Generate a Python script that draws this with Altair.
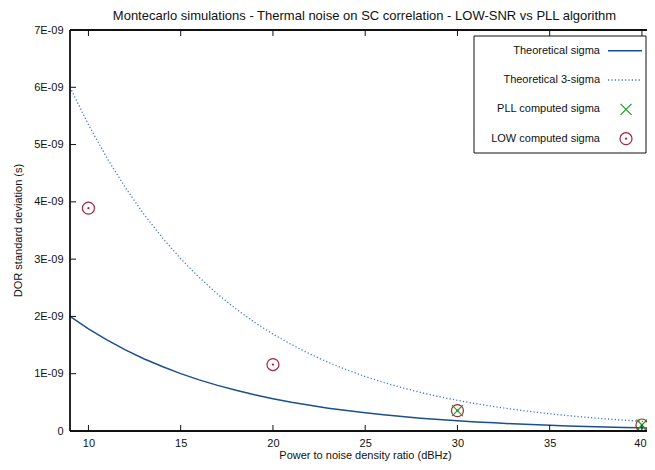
import altair as alt
import pandas as pd

# ---- data ----
snr = [9, 10, 11, 12, 13, 14, 15, 16, 17, 18, 19, 20, 21, 22, 23, 24, 25,
       26, 27, 28, 29, 30, 31, 32, 33, 34, 35, 36, 37, 38, 39, 40, 41]
theo_sigma = [2.000, 1.783, 1.589, 1.416, 1.262, 1.125, 1.002, 0.893, 0.796,
              0.710, 0.632, 0.564, 0.502, 0.448, 0.399, 0.356, 0.317, 0.283,
              0.252, 0.224, 0.200, 0.178, 0.159, 0.142, 0.126, 0.112, 0.100,
              0.089, 0.080, 0.071, 0.063, 0.056, 0.050]
theo_3sigma = [6.000, 5.348, 4.767, 4.249, 3.787, 3.375, 3.008, 2.681, 2.389,
               2.130, 1.898, 1.692, 1.508, 1.344, 1.198, 1.068, 0.951, 0.848,
               0.756, 0.673, 0.600, 0.535, 0.477, 0.425, 0.379, 0.338, 0.301,
               0.268, 0.239, 0.213, 0.190, 0.169, 0.151]
low_x = [10, 20, 30, 40]
low_sigma = [3.89, 1.16, 0.355, 0.105]
pll_x = [30, 40]
pll_sigma = [0.355, 0.105]
x_ticks = [10, 15, 20, 25, 30, 35, 40]
y_ticks = [0, 1, 2, 3, 4, 5, 6, 7]
legend_labels = ["Theoretical sigma", "Theoretical 3-sigma",
                 "PLL computed sigma", "LOW computed sigma"]

NS = 1e9
curves = pd.DataFrame({"x": snr,
                       "s1": [v / NS for v in theo_sigma],
                       "s3": [v / NS for v in theo_3sigma]})
low = pd.DataFrame({"x": low_x, "y": [v / NS for v in low_sigma]})
pll = pd.DataFrame({"x": pll_x, "y": [v / NS for v in pll_sigma]})
xt = pd.DataFrame({"x": x_ticks})
yt = pd.DataFrame({"y": [v / NS for v in y_ticks]})
one = pd.DataFrame({"a": [0]})

FONT = "Liberation Sans"
W, H = 577, 401
BLUE = "#1b4f8e"
LBLUE = "#3c78c0"
RED = "#a3243b"
GREEN = "#1e9e1e"
INK = "#111111"
XPATH = "M-1,-1L1,1M-1,1L1,-1"

xs = alt.Scale(domain=[9, 9 + W / 18.45], nice=False, zero=False)
ys = alt.Scale(domain=[0, 7 / NS], nice=False, zero=False)

xax = alt.Axis(values=x_ticks, ticks=False, domain=False, grid=False,
               labelFont=FONT, labelFontSize=11, labelColor=INK,
               labelPadding=6, labelFlush=False,
               labelOffset={"expr": "datum.value == 40 ? -2 : 0"},
               title="Power to noise density ratio (dBHz)",
               titleFont=FONT, titleFontSize=11, titleFontWeight="normal",
               titleColor=INK, titleX=295, titleY=24,
               titleBaseline="middle", titleAlign="center")
yax = alt.Axis(values=[v / NS for v in y_ticks], ticks=False, domain=False,
               grid=False, labelFont=FONT, labelFontSize=11, labelColor=INK,
               labelPadding=7, labelFlush=False,
               labelExpr="datum.value == 0 ? '0' : format(datum.value*1e9, '.0f') + 'E-09'",
               title="DOR standard deviation (s)", titleFont=FONT,
               titleFontSize=11, titleFontWeight="normal", titleColor=INK,
               titleAngle=270, titleX=-52, titleY=200, titleBaseline="middle",
               titleAlign="center")

X = lambda f: alt.X(f, type="quantitative", scale=xs, axis=xax)
Y = lambda f: alt.Y(f, type="quantitative", scale=ys, axis=yax)

line1 = alt.Chart(curves).mark_line(color=BLUE, strokeWidth=1.5, clip=True).encode(
    x=X("x"), y=Y("s1"))
line3 = alt.Chart(curves).mark_line(color=LBLUE, strokeWidth=1.3,
                                    strokeDash=[1.2, 2.2], clip=True).encode(
    x=X("x"), y=Y("s3"))
low_c = alt.Chart(low).mark_point(shape="circle", filled=False, size=144,
                                  color=RED, strokeWidth=1.2, opacity=1).encode(
    x=X("x"), y=Y("y"))
low_d = alt.Chart(low).mark_point(shape="circle", filled=True, size=5,
                                  color=RED, opacity=1).encode(
    x=X("x"), y=Y("y"))
pll_p = alt.Chart(pll).mark_point(shape=XPATH, filled=False, size=121,
                                  color=GREEN, strokeWidth=1.2, opacity=1).encode(
    x=X("x"), y=Y("y"))

# plot border (left, top, bottom; the right side runs off the page)
border = [
    alt.Chart(one).mark_rule(color=INK, strokeWidth=1.8).encode(
        x=alt.value(0), y=alt.value(0), y2=alt.value(H)),
    alt.Chart(one).mark_rule(color=INK, strokeWidth=1.8).encode(
        x=alt.value(0), x2=alt.value(W + 5), y=alt.value(0)),
    alt.Chart(one).mark_rule(color=INK, strokeWidth=1.8).encode(
        x=alt.value(0), x2=alt.value(W + 5), y=alt.value(H)),
]

# inward ticks (gnuplot style)
tick_b = alt.Chart(xt).mark_rule(color=INK, strokeWidth=1).encode(
    x=X("x"), y=alt.value(H), y2=alt.value(H - 6))
tick_t = alt.Chart(xt).mark_rule(color=INK, strokeWidth=1).encode(
    x=X("x"), y=alt.value(0), y2=alt.value(6))
tick_l = alt.Chart(yt).mark_rule(color=INK, strokeWidth=1).encode(
    y=Y("y"), x=alt.value(0), x2=alt.value(6))

# legend box
lx0, lx1, ly0, ly1 = 404, 576, 6, 123
rows = [20.7, 50, 79.3, 108.7]
leg = [alt.Chart(one).mark_rect(fill="white", stroke=INK, strokeWidth=1).encode(
    x=alt.value(lx0), x2=alt.value(lx1), y=alt.value(ly0), y2=alt.value(ly1))]
for lab, ry in zip(legend_labels, rows):
    leg.append(alt.Chart(one).mark_text(align="right", baseline="middle",
                                        font=FONT, fontSize=11, color=INK,
                                        text=lab).encode(
        x=alt.value(530), y=alt.value(ry)))
leg.append(alt.Chart(one).mark_rule(color=BLUE, strokeWidth=1.5).encode(
    x=alt.value(538), x2=alt.value(572), y=alt.value(rows[0])))
leg.append(alt.Chart(one).mark_rule(color=LBLUE, strokeWidth=1.3,
                                    strokeDash=[1.2, 2.2]).encode(
    x=alt.value(538), x2=alt.value(572), y=alt.value(rows[1])))
leg.append(alt.Chart(one).mark_point(shape=XPATH, filled=False, size=121,
                                     color=GREEN, strokeWidth=1.2, opacity=1).encode(
    x=alt.value(556), y=alt.value(rows[2])))
leg.append(alt.Chart(one).mark_point(shape="circle", filled=False, size=144,
                                     color=RED, strokeWidth=1.2, opacity=1).encode(
    x=alt.value(556), y=alt.value(rows[3])))
leg.append(alt.Chart(one).mark_point(shape="circle", filled=True, size=5,
                                     color=RED, opacity=1).encode(
    x=alt.value(556), y=alt.value(rows[3])))

chart = alt.layer(line1, line3, low_c, low_d, pll_p,
                  tick_b, tick_t, tick_l, *border, *leg).properties(
    width=W, height=H,
    title=alt.TitleParams(
        "Montecarlo simulations - Thermal noise on SC correlation - LOW-SNR vs PLL algorithm",
        font=FONT, fontSize=13, fontWeight="normal", color=INK,
        anchor="middle", frame="group", offset=1, dx=6),
    autosize=alt.AutoSizeParams(type="none"),
    padding={"left": 62, "top": 22, "right": 0, "bottom": 31},
).configure_view(strokeWidth=0).configure(background="white")

chart.save("out.html", embed_options={"renderer": "svg", "actions": False})
